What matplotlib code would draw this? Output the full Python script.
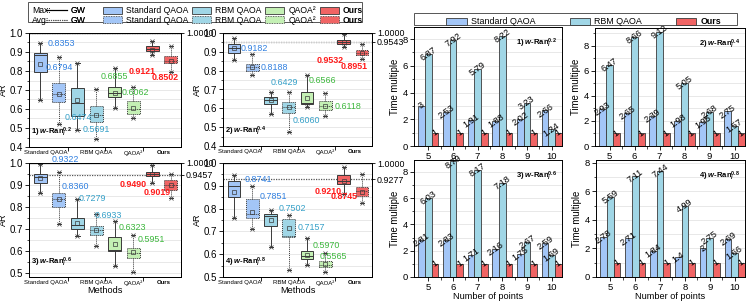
import matplotlib
matplotlib.use("Agg")
import matplotlib.pyplot as plt
import numpy as np
from matplotlib.patches import Patch, Rectangle
from matplotlib.lines import Line2D
from matplotlib.ticker import MultipleLocator, FixedLocator

plt.rcParams['font.family'] = ['Liberation Sans', 'DejaVu Sans']
plt.rcParams['mathtext.fontset'] = 'custom'
plt.rcParams['mathtext.rm'] = 'Liberation Sans:bold'
plt.rcParams['mathtext.it'] = 'Liberation Sans:italic:bold'
plt.rcParams['mathtext.bf'] = 'Liberation Sans:bold'

# ---- data ----
methods = ["Standard QAOA", "RBM QAOA", "QAOA²", "Ours"]
rho_tags = ["0.2", "0.4", "0.6", "0.8"]

# box stats per panel, order: Std max, Std avg, RBM max, RBM avg, QAOA2 max, QAOA2 avg, Ours max, Ours avg
# each row: [whisker low, q1, median, q3, whisker high]
box_r02 = [[0.646, 0.793, 0.884, 0.893, 0.946],
           [0.523, 0.637, 0.680, 0.735, 0.875],
           [0.488, 0.562, 0.629, 0.711, 0.840],
           [0.444, 0.532, 0.567, 0.616, 0.703],
           [0.606, 0.664, 0.682, 0.717, 0.814],
           [0.555, 0.576, 0.600, 0.641, 0.717],
           [0.884, 0.907, 0.915, 0.932, 0.960],
           [0.796, 0.840, 0.855, 0.879, 0.932]]
mean_r02 = [0.8353, 0.6794, 0.6474, 0.5691, 0.6855, 0.6062, 0.9121, 0.8502]

box_r04 = [[0.859, 0.896, 0.920, 0.940, 0.975],
           [0.776, 0.799, 0.818, 0.838, 0.891],
           [0.568, 0.621, 0.644, 0.661, 0.688],
           [0.476, 0.573, 0.605, 0.635, 0.688],
           [0.605, 0.623, 0.630, 0.688, 0.776],
           [0.559, 0.591, 0.612, 0.638, 0.683],
           [0.926, 0.940, 0.952, 0.965, 0.993],
           [0.864, 0.882, 0.895, 0.908, 0.940]]
mean_r04 = [0.9182, 0.8188, 0.6429, 0.6060, 0.6566, 0.6118, 0.9532, 0.8951]

box_r06 = [[0.865, 0.911, 0.934, 0.949, 0.995],
           [0.724, 0.801, 0.834, 0.865, 0.957],
           [0.669, 0.699, 0.719, 0.750, 0.837],
           [0.620, 0.673, 0.696, 0.712, 0.768],
           [0.531, 0.597, 0.604, 0.661, 0.735],
           [0.505, 0.566, 0.589, 0.612, 0.673],
           [0.908, 0.939, 0.948, 0.960, 0.991],
           [0.842, 0.877, 0.900, 0.922, 0.949]]
mean_r06 = [0.9322, 0.8360, 0.7279, 0.6933, 0.6323, 0.5951, 0.9490, 0.9019]

box_r08 = [[0.760, 0.849, 0.900, 0.919, 0.947],
           [0.709, 0.760, 0.775, 0.841, 0.900],
           [0.631, 0.724, 0.768, 0.775, 0.793],
           [0.529, 0.676, 0.682, 0.753, 0.771],
           [0.554, 0.579, 0.594, 0.613, 0.672],
           [0.521, 0.544, 0.554, 0.572, 0.606],
           [0.866, 0.907, 0.922, 0.947, 0.981],
           [0.826, 0.856, 0.878, 0.893, 0.951]]
mean_r08 = [0.8741, 0.7851, 0.7502, 0.7157, 0.5970, 0.5565, 0.9210, 0.8745]

gw_max = [1.0, 1.0, 1.0, 1.0]
gw_avg = [1.0, 0.9543, 0.9457, 0.9277]

points = [5, 6, 7, 8, 9, 10]
std_r02 = [3, 2.53, 1.91, 1.88, 2.02, 2.66]
rbm_r02 = [6.87, 7.92, 5.79, 8.22, 3.23, 1.24]
std_r04 = [2.93, 2.65, 2.39, 1.98, 1.95, 2.75]
rbm_r04 = [6.47, 8.66, 9.12, 5.05, 2.68, 1.57]
std_r06 = [2.81, 2.83, 1.71, 2.16, 1.75, 2.59]
rbm_r06 = [6.03, 8.79, 8.17, 7.18, 2.67, 1.69]
std_r08 = [2.78, 2.71, 1.84, 1.4, 2, 2.69]
rbm_r08 = [5.59, 7.11, 7.44, 4.99, 2.75, 1.66]
ours_t = [1, 1, 1, 1, 1, 1]

# ---- styling ----
box_colors = ['#a3c6f7', '#a0d6e6', '#c4f0b4', '#f06464']
txt_colors = ['#2f7fe0', '#35a0c8', '#3cb83c', '#ff1a1a']
edge = '#3a3a3a'

# label offsets (pixels) from (box position, mean)
off_r02 = [(21, 21), (0, 26), (1, -18), (0, -15), (0, 16), (2, 15), (-10, -22), (-6, -16)]
off_r04 = [(20, 0), (22, 0), (14, 18), (18, -13), (15, 17), (23, 0), (-13, -19), (-8, -14)]
off_r06 = [(25, 18), (17, 12), (15, 24), (12, 15), (18, 16), (18, 12), (-19, -10), (-14, -8)]
off_r08 = [(24, 12), (21, 15), (22, 11), (23, 0), (19, 9), (8, 8), (-15, -10), (-18, -5)]
# where the method names sit under each panel
method_label_x = [1.3, 4.0, 6.0, 7.6]

W, H = 747, 301
fig = plt.figure(figsize=(W / 100, H / 100), dpi=100)


def px_axes(x0, y0, x1, y1):
    return fig.add_axes([x0 / W, 1 - y1 / H, (x1 - x0) / W, (y1 - y0) / H])


def box_panel(ax, stats, means, offs, ylim, gmax, gavg, k, xlabel):
    pos = np.arange(1, 9)
    for i in range(8):
        lo, q1, med, q3, hi = stats[i]
        st = dict(whislo=lo, q1=q1, med=med, q3=q3, whishi=hi, mean=means[i], fliers=[lo, hi])
        ls = '-' if i % 2 == 0 else (0, (1, 1))
        col = box_colors[i // 2]
        ax.bxp([st], positions=[pos[i]], widths=0.7, patch_artist=True,
               showmeans=True, showfliers=True, manage_ticks=False, capwidths=0.22,
               boxprops=dict(facecolor=col, edgecolor=edge, linestyle=ls, linewidth=0.7),
               whiskerprops=dict(color=edge, linestyle=ls, linewidth=0.7),
               capprops=dict(color=edge, linewidth=0.7),
               medianprops=dict(color=edge, linestyle=ls, linewidth=0.7),
               meanprops=dict(marker='s', markerfacecolor='none', markeredgecolor=edge,
                              markersize=2.6, markeredgewidth=0.5),
               flierprops=dict(marker='x', markersize=2.4, markeredgecolor=edge,
                               markeredgewidth=0.5))
    for i in range(8):
        bold = 'bold' if i >= 6 else 'normal'
        ax.annotate(f"{means[i]:.4f}", xy=(pos[i], means[i]), xytext=offs[i],
                    textcoords='offset pixels', ha='center', va='center', zorder=10,
                    fontsize=6.4, color=txt_colors[i // 2], fontweight=bold)
    ax.axhline(gmax, color='k', lw=0.9, zorder=0.5)
    ax.axhline(gavg, color='#555555', lw=0.9, ls=(0, (1, 1)), zorder=0.5)
    ax.set_xlim(0.4, 8.55)
    ax.set_ylim(*ylim)
    ax.yaxis.set_major_locator(MultipleLocator(0.1))
    ax.yaxis.set_minor_locator(MultipleLocator(0.05))
    ax.grid(True, axis='y', which='both', color='#e4e4e4', lw=0.6, zorder=0)
    ax.set_axisbelow(True)
    ax.set_xticks(method_label_x)
    ax.set_xticklabels(methods, fontsize=4.3)
    ax.get_xticklabels()[3].set_fontweight('bold')
    ax.xaxis.set_minor_locator(FixedLocator([2.5, 4.5, 6.5]))
    ax.tick_params(axis='x', which='major', length=0, pad=2.5)
    ax.tick_params(axis='x', which='minor', length=3, direction='out', width=0.6)
    ax.tick_params(axis='y', which='major', labelsize=7, length=3, width=0.6, pad=1.5)
    ax.tick_params(axis='y', which='minor', length=1.8, width=0.5)
    ax.set_ylabel("AR", fontsize=6.5, labelpad=1)
    if xlabel:
        ax.set_xlabel("Methods", fontsize=6.6, labelpad=0)
    for s in ax.spines.values():
        s.set_linewidth(0.7)
    ax.text(0.015, 0.07, rf"{k}) $w$-Ran$_i^{{{rho_tags[k - 1]}}}$", transform=ax.transAxes,
            fontsize=5.5, fontweight='bold', ha='left', va='bottom', zorder=10)
    tw = ax.twinx()
    tw.set_ylim(*ylim)
    tw.set_yticks(sorted({gmax, gavg}))
    tw.set_yticklabels([f"{v:.4f}" for v in sorted({gmax, gavg})], fontsize=6.4)
    tw.tick_params(axis='y', length=2.5, width=0.6, pad=1)
    for s in tw.spines.values():
        s.set_linewidth(0.7)


def bar_panel(ax, std, rbm, k, ymax, xlabel):
    x = np.array(points)
    w = 0.27
    for vals, off, col in [(std, -w, box_colors[0]), (rbm, 0, box_colors[1]), (ours_t, w, box_colors[3])]:
        bars = ax.bar(x + off, vals, width=w, color=col, edgecolor=edge, linewidth=0.6, zorder=2)
        for b, v in zip(bars, vals):
            ax.text(b.get_x() + b.get_width() / 2, v, f"{v:g}", rotation=35,
                    rotation_mode='anchor', ha='center', va='center', fontsize=6.6, zorder=3)
    ax.set_xlim(4.42, 10.42)
    ax.set_ylim(0, ymax)
    ax.set_xticks(points)
    ax.xaxis.set_minor_locator(FixedLocator([5.5, 6.5, 7.5, 8.5, 9.5]))
    ax.yaxis.set_major_locator(MultipleLocator(2))
    ax.yaxis.set_minor_locator(MultipleLocator(1))
    ax.grid(True, axis='y', which='both', color='#e4e4e4', lw=0.6, zorder=0)
    ax.set_axisbelow(True)
    ax.tick_params(which='major', labelsize=6.8, length=3, width=0.6, pad=1.5)
    ax.tick_params(which='minor', length=1.8, width=0.5)
    ax.set_ylabel("Time multiple", fontsize=6.9, labelpad=2)
    if xlabel:
        ax.set_xlabel("Number of points", fontsize=6.6, labelpad=0)
    for s in ax.spines.values():
        s.set_linewidth(0.7)
    ax.text(0.97, 0.92, rf"{k}) $w$-Ran$_i^{{{rho_tags[k - 1]}}}$", transform=ax.transAxes,
            fontsize=5.5, fontweight='bold', ha='right', va='top')


a1 = px_axes(29, 33, 181, 147)
a2 = px_axes(223, 33, 372, 146)
a3 = px_axes(29, 163, 181, 277)
a4 = px_axes(223, 163, 372, 277)
box_panel(a1, box_r02, mean_r02, off_r02, (0.4, 1.0), gw_max[0], gw_avg[0], 1, False)
box_panel(a2, box_r04, mean_r04, off_r04, (0.4, 1.0), gw_max[1], gw_avg[1], 2, False)
box_panel(a3, box_r06, mean_r06, off_r06, (0.48, 1.0), gw_max[2], gw_avg[2], 3, True)
box_panel(a4, box_r08, mean_r08, off_r08, (0.5, 1.0), gw_max[3], gw_avg[3], 4, True)

b1 = px_axes(414, 27, 562, 146)
b2 = px_axes(595, 28, 745, 146)
b3 = px_axes(414, 160, 562, 277)
b4 = px_axes(596, 160, 745, 277)
bar_panel(b1, std_r02, rbm_r02, 1, 8.9, False)
bar_panel(b2, std_r04, rbm_r04, 2, 9.4, False)
bar_panel(b3, std_r06, rbm_r06, 3, 8.9, True)
bar_panel(b4, std_r08, rbm_r08, 4, 8.2, True)

# ---- legends ----
lfs = 6.2
gw_handles = [Line2D([], [], color='k', lw=0.8), Line2D([], [], color='#555555', lw=0.8, ls=(0, (1, 1)))]
leg_gw = fig.legend(gw_handles, ["GW", "GW"], loc='upper left', bbox_to_anchor=(41 / W, 1 - 1 / H),
                    frameon=False, fontsize=lfs, handlelength=2.4, handletextpad=0.4,
                    labelspacing=0.05, borderpad=0.1)
m_handles, m_labels = [], []
for j, name in enumerate(methods):
    m_handles.append(Patch(facecolor=box_colors[j], edgecolor=edge, lw=0.6))
    m_handles.append(Patch(facecolor=box_colors[j], edgecolor=edge, lw=0.6, ls=(0, (1, 1))))
    m_labels += [name, name]
leg_m = fig.legend(m_handles, m_labels, loc='upper left', bbox_to_anchor=(98 / W, 1 - 1 / H), ncol=4,
                   frameon=False, fontsize=lfs, handlelength=2.2, handleheight=0.9, handletextpad=0.5,
                   columnspacing=0.4, labelspacing=0.05, borderpad=0.1)
for t in leg_m.get_texts()[6:]:
    t.set_fontweight('bold')
fig.add_artist(leg_gw)

r_handles = [Patch(facecolor=box_colors[0], edgecolor=edge, lw=0.6),
             Patch(facecolor=box_colors[1], edgecolor=edge, lw=0.6),
             Patch(facecolor=box_colors[3], edgecolor=edge, lw=0.6)]
leg_r = fig.legend(r_handles, ["Standard QAOA", "RBM QAOA", "Ours"], loc='upper left',
                   bbox_to_anchor=(441 / W, 1 - 12 / H), ncol=3, frameon=False, fontsize=6.4,
                   handlelength=2.3, handleheight=0.9, handletextpad=0.5, columnspacing=3.8, borderpad=0.1)
leg_r.get_texts()[2].set_fontweight('bold')

fig.canvas.draw()
rend = fig.canvas.get_renderer()
for t, pre in zip(leg_gw.get_texts(), ["Max:", "Avg:"]):
    bb = t.get_window_extent(rend)
    fig.text(32 / W, (bb.y0 + bb.y1) / 2 / H, pre, fontsize=lfs, ha='left', va='center')

fig.add_artist(Rectangle((28 / W, 1 - 22 / H), 334 / W, 20 / H, transform=fig.transFigure,
                         fill=False, edgecolor='#555555', lw=0.7))
fig.add_artist(Rectangle((414 / W, 1 - 25 / H), 323 / W, 12 / H, transform=fig.transFigure,
                         fill=False, edgecolor='#555555', lw=0.7))

fig.savefig("out.png", dpi=100)
